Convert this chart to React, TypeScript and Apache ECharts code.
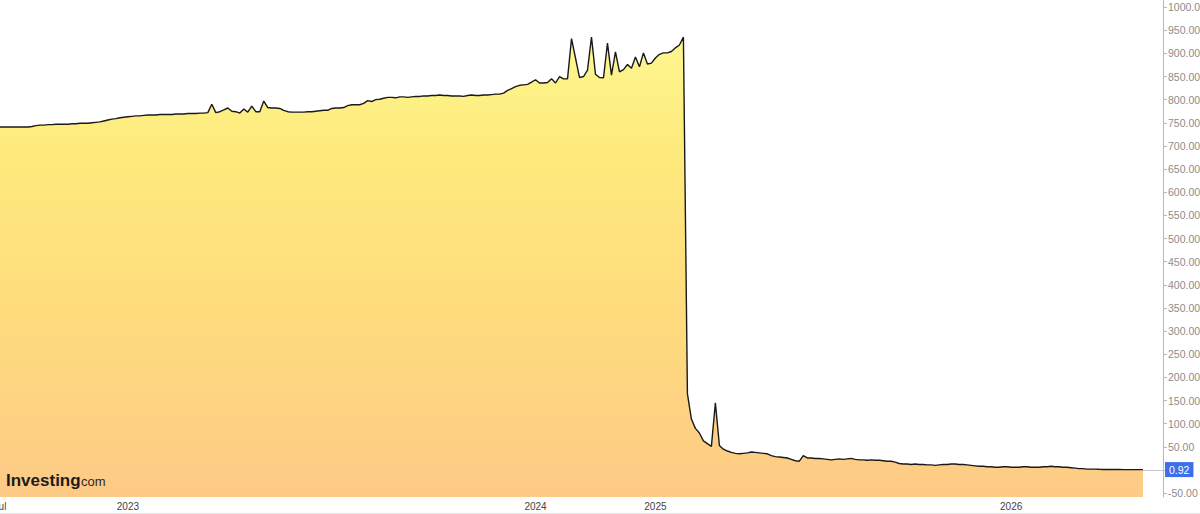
import React, { useEffect, useRef } from "react";
import * as echarts from "echarts";

// First category of each segment carries the axis label
const segmentLabels = ["Jul", "2023", "2024", "2025", "2026"];

const valuesH2_2022 = [
  741, 741, 741, 741, 741, 741, 741, 741, 742, 744, 745, 745, 746, 746, 747, 747,
  747, 747, 748, 748, 749, 749, 749, 750, 751, 752, 754, 756, 758, 759, 761, 762,
];

const values2023 = [
  763, 764, 765, 765, 766, 767, 767, 767, 768, 768, 768, 768, 769, 769, 769, 770,
  770, 770, 771, 771, 772, 790, 772, 774, 778, 782, 775, 774, 771, 780, 773, 786,
  774, 774, 797, 783, 782, 782, 781, 777, 774, 773, 773, 773, 773, 774, 774, 775,
  776, 777, 777, 781, 782, 782, 783, 787, 789, 789, 789, 792, 798, 796, 800, 801,
  803, 805, 805, 804, 806, 806, 805, 806, 807, 807, 808, 808, 809, 809, 810, 809,
  809, 808, 808, 808, 807, 809, 810, 809, 809, 810, 810, 811, 812, 812, 814, 820,
  824, 828, 831, 832, 833, 838,
];

const values2024 = [
  843, 836, 836, 837, 845, 836, 850, 845, 845, 932, 890, 848, 850, 864, 935, 855,
  848, 847, 922, 853, 903, 860, 865, 876, 868, 892, 871, 901, 877, 879,
];

const values2025 = [
  890, 898, 901, 901, 904, 912, 918, 935, 165, 110, 90, 80, 63, 57, 51, 145,
  53, 45, 41, 38, 36, 35, 36, 37, 39, 38, 37, 36, 35, 31, 29, 28,
  27, 26, 23, 20, 19, 31, 26, 26, 25, 25, 24, 23, 22, 23, 24, 23,
  24, 25, 23, 22, 22, 21, 22, 21, 21, 20, 19, 19, 17, 14, 13, 13,
  12, 13, 12, 12, 11, 11, 10, 11, 12, 12, 13, 13, 12, 12, 11, 10,
  9, 8, 8, 7, 7, 6, 6, 7, 7,
];

const values2026 = [
  6, 6, 6, 7, 7, 6, 6, 6, 7, 7, 8, 7, 7, 6, 6, 5, 4, 3, 3, 2, 2, 2, 1.5, 1.2, 1,
  1, 1, 1, 0.92, 0.92, 0.92, 0.92, 0.92, 0.92,
];

// Empty future slots after the last quote (right-hand padding of the time axis)
const futureSlots = 5;

// Unlabelled month ticks (category indices)
const monthTickIndices = [16, 51, 70, 86, 105, 182, 210, 225, 280];

const yTickValues = [
  -50, 0, 50, 100, 150, 200, 250, 300, 350, 400, 450, 500, 550, 600, 650, 700,
  750, 800, 850, 900, 950, 1000,
];
// The 0 label is covered by the last-price box
const yLabelValues = yTickValues.filter((v) => v !== 0);

const FONT = "Arial, 'Liberation Sans', sans-serif";

export default function App() {
  const ref = useRef<HTMLDivElement>(null);

  useEffect(() => {
    if (!ref.current) return;
    const chart = echarts.init(ref.current, null, { renderer: "svg" });

    const segments = [valuesH2_2022, values2023, values2024, values2025, values2026];
    const values: (number | null)[] = [];
    const labels: string[] = [];
    const categories: string[] = [];
    segments.forEach((seg, s) =>
      seg.forEach((v, k) => {
        categories.push("c" + values.length);
        labels.push(k === 0 ? segmentLabels[s] : "");
        values.push(v);
      })
    );
    const lastIdx = values.length - 1;
    const last = values[lastIdx] as number;
    for (let k = 0; k < futureSlots; k++) {
      categories.push("c" + values.length);
      labels.push("");
      values.push(null);
    }
    const tickSet = new Set(monthTickIndices);

    chart.setOption({
      animation: false,
      grid: {
        left: 0,
        right: 37,
        top: 0,
        bottom: 17,
        containLabel: false,
        outerBoundsMode: "none",
      },
      xAxis: {
        type: "category",
        data: categories,
        boundaryGap: false,
        axisLine: { show: true, lineStyle: { color: "#c6c6d4", width: 1 } },
        axisTick: {
          show: true,
          length: 3,
          interval: (idx: number) => labels[idx] !== "" || tickSet.has(idx),
          lineStyle: { color: "#aaaaaa" },
        },
        axisLabel: {
          interval: (idx: number) => labels[idx] !== "",
          formatter: (_v: string, idx: number) => labels[idx],
          color: "#444444",
          fontSize: 10,
          fontFamily: FONT,
          margin: 4,
        },
        splitLine: { show: false },
      },
      yAxis: {
        type: "value",
        position: "right",
        min: -58.3,
        max: 1015.3,
        axisLine: { show: true, lineStyle: { color: "#b8b8b8" } },
        axisTick: {
          show: true,
          length: 4,
          customValues: yTickValues,
          lineStyle: { color: "#b8b8b8" },
        },
        axisLabel: {
          customValues: yLabelValues,
          formatter: (v: number) => v.toFixed(2),
          color: "#8c8c8c",
          fontSize: 10.5,
          fontFamily: FONT,
          margin: 5,
        },
        splitLine: { show: false },
      },
      series: [
        {
          type: "line",
          data: values,
          symbol: "none",
          smooth: false,
          connectNulls: false,
          lineStyle: { color: "#1a1a1a", width: 1.4 },
          areaStyle: {
            origin: "start",
            opacity: 1,
            color: new echarts.graphic.LinearGradient(0, 0, 0, 1, [
              { offset: 0, color: "#fcf790" },
              { offset: 0.25, color: "#feea7c" },
              { offset: 0.6, color: "#fedc7c" },
              { offset: 1, color: "#fdca87" },
            ]),
          },
        },
      ],
    });

    // Position the last-price box through the chart's own scale
    const pt = chart.convertToPixel({ gridIndex: 0 }, [lastIdx, last]) as number[];
    const axisX = 1200 - 37;

    chart.setOption({
      graphic: [
        {
          type: "line",
          z: 100,
          shape: { x1: 0, y1: 513.5, x2: 1200, y2: 513.5 },
          style: { stroke: "#e2e2e2", lineWidth: 1 },
          silent: true,
        },
        {
          type: "text",
          z: 100,
          x: 6,
          y: 480,
          style: {
            text: "Investing",
            font: `bold 17px ${FONT}`,
            fill: "#1c1c1c",
            verticalAlign: "middle",
          },
          silent: true,
        },
        {
          type: "text",
          z: 100,
          x: 81,
          y: 481,
          style: {
            text: "com",
            font: `13px ${FONT}`,
            fill: "#2a2a2a",
            verticalAlign: "middle",
          },
          silent: true,
        },
        {
          type: "text",
          z: 100,
          x: axisX + 2,
          y: pt[1],
          style: {
            text: last.toFixed(2),
            font: `10.5px ${FONT}`,
            fill: "#ffffff",
            backgroundColor: "#3c6fe9",
            padding: [2, 4, 2, 4],
            verticalAlign: "middle",
          },
          silent: true,
        },
      ],
    });

    return () => chart.dispose();
  }, []);

  return (
    <div
      ref={ref}
      style={{ position: "fixed", left: 0, top: 0, width: 1200, height: 514, background: "#ffffff" }}
    />
  );
}
